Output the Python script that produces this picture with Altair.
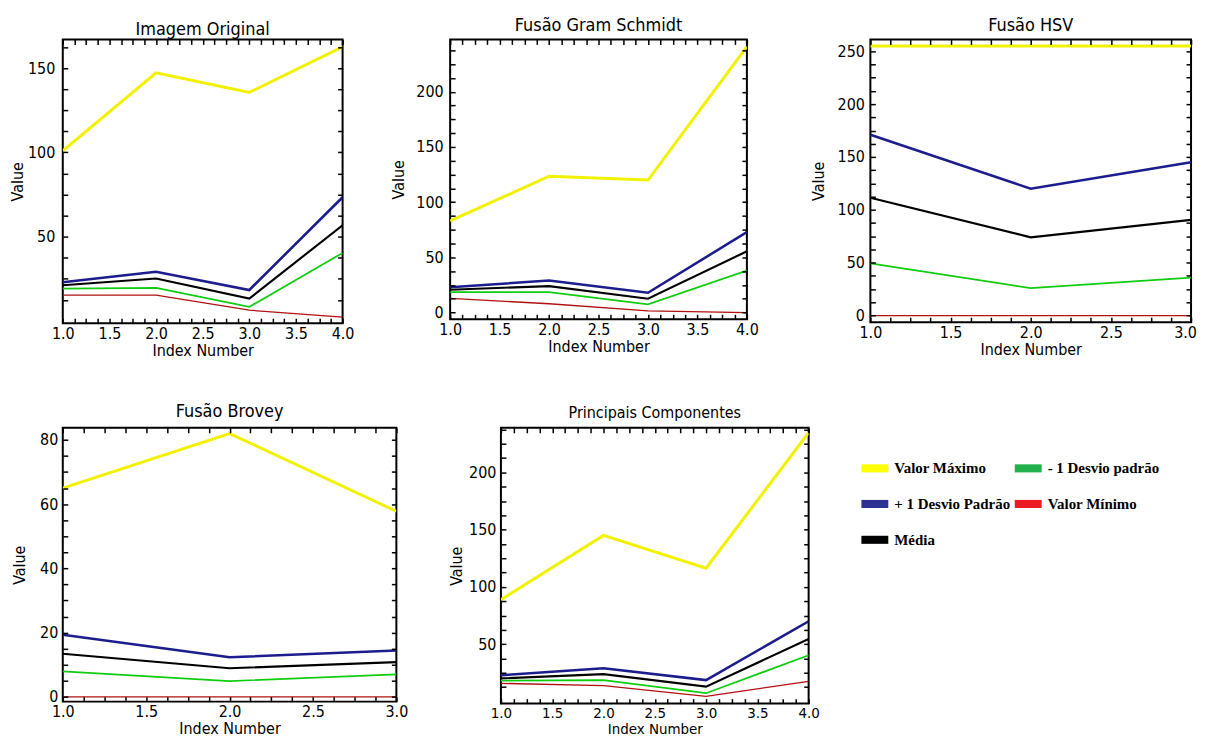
import altair as alt
import pandas as pd
import numpy as np

# ---------------- data ----------------
series_names = ["Valor Máximo", "+ 1 Desvio Padrão", "Média", "- 1 Desvio padrão", "Valor Mínimo"]
plot_colors = ["#f2f200", "#1c1c8c", "#000000", "#10cc10", "#b01010"]
line_widths = [3, 1.3, 1.3, 1.3, 1.3]

legend_colors = ["#ffff00", "#2e3192", "#000000", "#22b14c", "#ed1c24"]

x4 = [1, 2, 3, 4]
x3 = [1, 2, 3]

orig_max = [100.9, 147.2, 135.6, 162.6]
orig_plus = [23.0, 29.2, 18.4, 73.4]
orig_mean = [21.2, 25.2, 13.3, 56.8]
orig_minus = [19.2, 19.6, 8.4, 40.4]
orig_min = [15.4, 15.4, 6.4, 2.3]

gs_max = [83.0, 123.5, 120.0, 240.8]
gs_plus = [23.0, 29.0, 18.0, 72.9]
gs_mean = [20.7, 24.0, 12.6, 55.5]
gs_minus = [18.6, 18.6, 7.5, 38.0]
gs_min = [12.9, 8.0, 1.5, 0.0]

hsv_max = [255, 255, 255]
hsv_plus = [171.0, 120.0, 145.0]
hsv_mean = [111.4, 74.0, 90.5]
hsv_minus = [49.3, 25.9, 35.9]
hsv_min = [0, 0, 0]

brovey_max = [65.0, 82.0, 57.8]
brovey_plus = [19.3, 12.3, 14.4]
brovey_mean = [13.4, 8.9, 10.8]
brovey_minus = [7.9, 4.9, 7.0]
brovey_min = [0, 0, 0]

pc_max = [88.8, 145.0, 116.4, 234.7]
pc_plus = [22.9, 28.9, 18.6, 70.0]
pc_mean = [20.1, 23.8, 12.9, 54.6]
pc_minus = [18.1, 18.6, 7.2, 40.3]
pc_min = [15.8, 13.8, 4.4, 17.5]

FONT = "DejaVu Sans Condensed, Liberation Sans Narrow, DejaVu Sans, sans-serif"


def panel(title, xs, vals, ydom, ymajor, ylab_min, ytick_min, width, height,
          title_size, title_offset, lab_pad, title_pad, xfont=16, last_shift=0, extra=None):
    rows = []
    for name, v in zip(series_names, vals):
        for xi, yi in zip(xs, v):
            rows.append({"x": xi, "value": yi, "serie": name})
    df = pd.DataFrame(rows)
    xmax = xs[-1]
    xticks = [float(t) for t in np.arange(1, xmax + 1e-9, 0.125)]
    ystep = ymajor / 4
    yticks = [float(t) for t in np.arange(0, ydom[1], ystep) if t >= ytick_min]

    common = dict(ticks=True, tickSize=5, tickWidth=1.5, tickColor="black", offset=-5,
                  domain=False, grid=False, minExtent=0, zindex=1,
                  labelColor="black", labelOverlap=False, labelFlush=False,
                  titleFont=FONT, titleFontWeight="normal", titleColor="black")

    xscale = alt.Scale(domain=[1, xmax], nice=False, zero=False)
    yscale = alt.Scale(domain=ydom, nice=False, zero=False)

    x_bottom = alt.Axis(values=xticks, title="Index Number", labelPadding=2, titlePadding=1,
                        labelFont=FONT, labelFontSize=xfont, titleFontSize=xfont,
                        labelOffset={"condition": {"test": f"datum.value === {xmax}", "value": last_shift}, "value": 0},
                        labelExpr="abs(datum.value % 0.5) < 1e-6 ? format(datum.value, '.1f') : ''",
                        **common)
    y_left = alt.Axis(values=yticks, title="Value", labelPadding=lab_pad, titlePadding=title_pad,
                      labelFont=FONT, labelFontSize=16, titleFontSize=16,
                      labelExpr=f"(abs(datum.value % {ymajor}) < 1e-6 && datum.value >= {ylab_min}) ? format(datum.value, 'd') : ''",
                      **common)
    x_top = alt.Axis(values=xticks, orient="top", labels=False, title=None, **common)
    y_right = alt.Axis(values=yticks, orient="right", labels=False, title=None, **common)

    base = alt.Chart(df)
    lines = base.mark_line(clip=True).encode(
        x=alt.X("x:Q", scale=xscale, axis=x_bottom),
        y=alt.Y("value:Q", scale=yscale, axis=y_left),
        color=alt.Color("serie:N", scale=alt.Scale(domain=series_names, range=plot_colors), legend=None),
        strokeWidth=alt.StrokeWidth("serie:N", scale=alt.Scale(domain=series_names, range=line_widths), legend=None),
        detail="serie:N",
    )
    frame = base.mark_line(strokeOpacity=0).encode(
        x=alt.X("x:Q", scale=xscale, axis=x_top),
        y=alt.Y("value:Q", scale=yscale, axis=y_right),
        detail="serie:N",
    )
    layers = [lines, frame]
    if extra is not None:
        layers.append(extra)
    ch = alt.layer(*layers).resolve_axis(x="independent", y="independent").properties(
        width=width, height=height,
        title=alt.TitleParams(title, font=FONT, fontSize=title_size, fontWeight="normal",
                              color="black", anchor="middle", offset=title_offset),
    )
    return ch


legend_layer = alt.Chart(pd.DataFrame({"serie": series_names})).mark_square().encode(
    fill=alt.Fill("serie:N", scale=alt.Scale(domain=series_names, range=legend_colors),
                  legend=alt.Legend(orient="none", legendX=362, legendY=27, columns=2,
                                    symbolType="M-1,-0.3H1V0.3H-1Z", symbolSize=729,
                                    symbolStrokeWidth=0, symbolOpacity=1,
                                    labelFont="Liberation Serif", labelFontSize=15,
                                    labelFontWeight="bold", labelColor="black",
                                    labelOffset=6, columnPadding=4, rowPadding=14,
                                    padding=0, title=None))
).transform_filter("false")

p1 = panel("Imagem Original", x4, [orig_max, orig_plus, orig_mean, orig_minus, orig_min],
           [-1.3, 167.0], 50, 50, 12.5, 281, 285, 18, 0, 8, 2)
p2 = panel("Fusão Gram Schmidt", x4, [gs_max, gs_plus, gs_mean, gs_minus, gs_min],
           [-6.0, 247.4], 50, 0, 0, 298, 281, 18, 4, 7, 9)
p3 = panel("Fusão HSV", x3, [hsv_max, hsv_plus, hsv_mean, hsv_minus, hsv_min],
           [-6.3, 261.2], 50, 0, 0, 322, 284, 18, 4, 6, 11, last_shift=-6)
p4 = panel("Fusão Brovey", x3, [brovey_max, brovey_plus, brovey_mean, brovey_minus, brovey_min],
           [-1.5, 83.8], 20, 0, 0, 335, 275, 18, 6, 5, 12)
p5 = panel("Principais Componentes", x4, [pc_max, pc_plus, pc_mean, pc_minus, pc_min],
           [-1.9, 239.0], 50, 50, 12.5, 309, 277, 16, 1, 5, 4, xfont=15, extra=legend_layer)

row1 = alt.hconcat(alt.hconcat(p1, p2, spacing=34), p3, spacing=49)
row2 = alt.hconcat(p4, p5, spacing=38).resolve_scale(fill="independent")

chart = alt.vconcat(row1, row2, spacing=43).resolve_scale(fill="independent").configure_view(
    stroke="black", strokeWidth=2
).properties(padding={"left": 0, "top": 6, "right": 0, "bottom": 0}, background="white")

chart.save("out.html", embed_options={"renderer": "svg", "actions": False})
